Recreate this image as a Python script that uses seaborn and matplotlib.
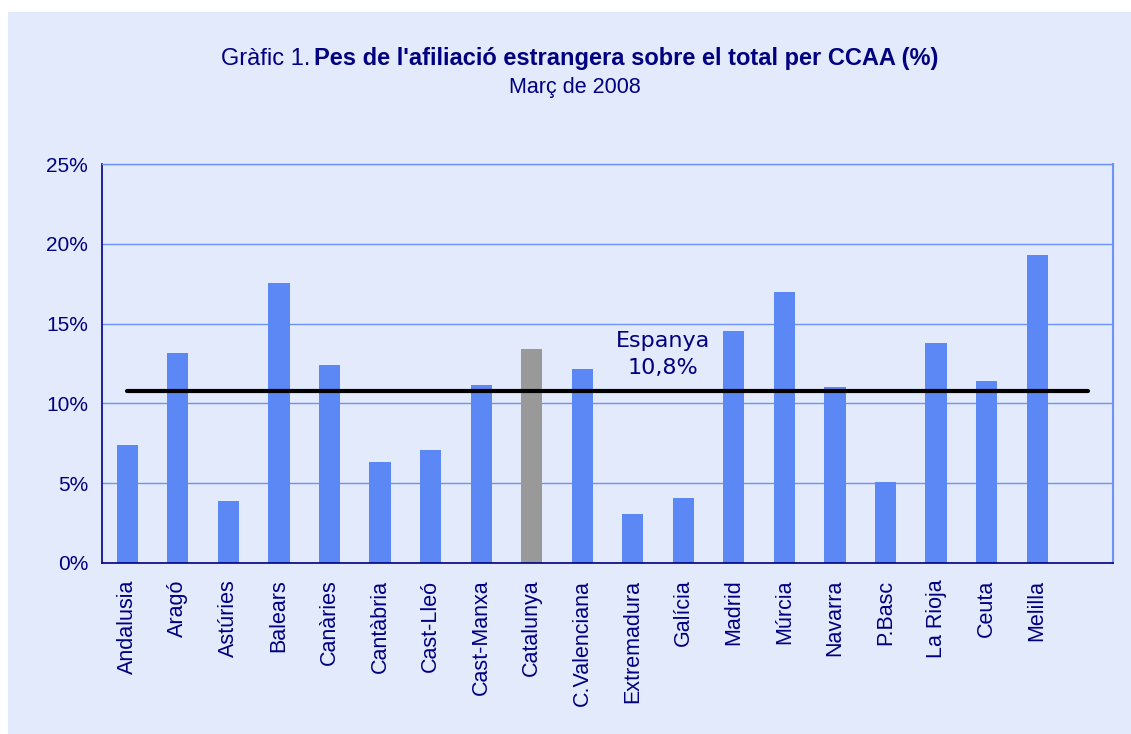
import numpy as np
import pandas as pd
import matplotlib
matplotlib.use("Agg")
import matplotlib.pyplot as plt
import seaborn as sns
from matplotlib.patches import Rectangle
from matplotlib.ticker import FixedLocator, PercentFormatter

# Dades llegides del gràfic
comunitats = ["Andalusia", "Aragó", "Astúries", "Balears", "Canàries", "Cantàbria",
              "Cast-Lleó", "Cast-Manxa", "Catalunya", "C.Valenciana", "Extremadura",
              "Galícia", "Madrid", "Múrcia", "Navarra", "P.Basc", "La Rioja",
              "Ceuta", "Melilla", ""]
pes_estrangers = [7.4, 13.15, 3.9, 17.55, 12.4, 6.3, 7.05, 11.15, 13.4, 12.15,
                  3.05, 4.05, 14.55, 17.0, 11.0, 5.1, 13.8, 11.4, 19.3, np.nan]
mitjana_espanya = 10.8
destacada = "Catalunya"

NAVY = "#000080"
FONS = "#E3EAFB"
BLAU = "#5B88F5"
GRIS = "#999999"
GRAELLA = "#6E92F5"

sns.set_style("white")
plt.rcParams["font.family"] = ["Liberation Sans", "DejaVu Sans"]

df = pd.DataFrame({"ccaa": comunitats, "pes": pes_estrangers})
df["grup"] = np.where(df["ccaa"] == destacada, "gris", "blau")

fig = plt.figure(figsize=(11.31, 7.34), dpi=100)
fig.patch.set_facecolor("white")
fig.patches.append(Rectangle((8 / 1131, 0), 1 - 8 / 1131, 1 - 12 / 734,
                             transform=fig.transFigure, facecolor=FONS,
                             edgecolor="none", zorder=-10))

ax = fig.add_axes([102 / 1131, (734 - 563) / 734, (1113 - 102) / 1131, (563 - 164) / 734])
ax.set_facecolor(FONS)

sns.barplot(data=df, x="ccaa", y="pes", hue="grup",
            palette={"blau": BLAU, "gris": GRIS}, width=0.42,
            legend=False, ax=ax, zorder=2, saturation=1, linewidth=0)

# línia de la mitjana d'Espanya
ax.plot([0, len(comunitats) - 1], [mitjana_espanya, mitjana_espanya],
        color="black", lw=3, zorder=4, solid_capstyle="round")
ax.text(10.6, 13.05, f"Espanya\n{str(mitjana_espanya).replace('.', ',')}%",
        ha="center", va="center", fontsize=16, color=NAVY,
        family="DejaVu Sans", linespacing=1.45, zorder=5)

ax.set_xlim(-0.5, len(comunitats) - 0.5)
ax.set_ylim(0, 25)
ax.set_yticks([0, 5, 10, 15, 20, 25])
ax.yaxis.set_major_formatter(PercentFormatter(decimals=0))
ax.grid(axis="y", color=GRAELLA, lw=1, zorder=0)
ax.set_axisbelow(True)

ax.set_xticks(range(len(comunitats)))
ax.set_xticklabels(comunitats, rotation=90, fontsize=15.5, color=NAVY)
ax.xaxis.set_minor_locator(FixedLocator(np.arange(-0.5, len(comunitats), 1)))
ax.tick_params(axis="x", which="major", length=0, pad=12)
ax.tick_params(axis="x", which="minor", length=6, color="#5050C0", width=1)
ax.tick_params(axis="y", length=6, color=NAVY, width=1, labelsize=15,
               labelcolor=NAVY, pad=4)

ax.set_xlabel("")
ax.set_ylabel("")
for s in ["left", "bottom"]:
    ax.spines[s].set_color(NAVY)
    ax.spines[s].set_linewidth(1.2)
ax.spines["right"].set_color(GRAELLA)
ax.spines["right"].set_linewidth(1.5)
ax.spines["top"].set_color(GRAELLA)
ax.spines["top"].set_linewidth(1)

# títol en dues parts (normal + negreta), alineades per la línia base
fig.text(310 / 1131, 1 - 65 / 734, "Gràfic 1.", ha="right", va="baseline",
         fontsize=17, color=NAVY)
fig.text(314 / 1131, 1 - 65 / 734,
         "Pes de l'afiliació estrangera sobre el total per CCAA (%)",
         ha="left", va="baseline", fontsize=17, color=NAVY, fontweight="bold")
fig.text(575 / 1131, 1 - 87 / 734, "Març de 2008", ha="center", va="center",
         fontsize=15.5, color=NAVY)

fig.savefig("out.png", dpi=100, facecolor=fig.get_facecolor())
